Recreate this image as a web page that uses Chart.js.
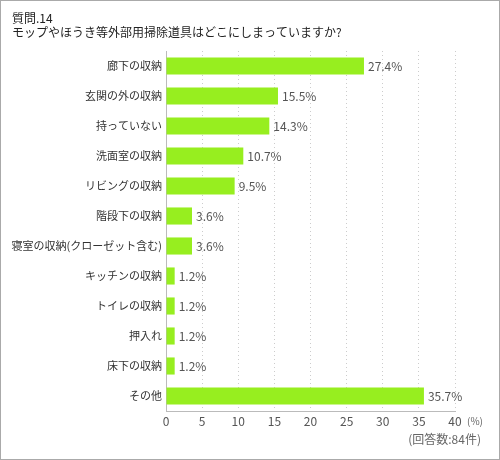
<!DOCTYPE html>
<html lang="ja">
<head>
<meta charset="UTF-8">
<script src="https://cdn.jsdelivr.net/npm/chart.js"></script>
<title>質問.14</title>
<style>
  body { margin: 0; background: #fff; }
  canvas { display: block; }
</style>
</head>
<body>
<canvas id="chart" width="500" height="460"></canvas>
<script>
// 質問.14 の回答 (%)
const categories = ['廊下の収納', '玄関の外の収納', '持っていない', '洗面室の収納', 'リビングの収納', '階段下の収納',
  '寝室の収納(クローゼット含む)', 'キッチンの収納', 'トイレの収納', '押入れ', '床下の収納', 'その他'];
const percents = [27.4, 15.5, 14.3, 10.7, 9.5, 3.6, 3.6, 1.2, 1.2, 1.2, 1.2, 35.7];
const titleLines = ['質問.14', 'モップやほうき等外部用掃除道具はどこにしまっていますか?'];
const unitLabel = '(%)';
const noteLabel = '(回答数:84件)';

const FONT = '"Noto Sans CJK JP", "Noto Sans", sans-serif';

// frame, title, notes and the value labels next to the bars
const extras = {
  id: 'extras',
  beforeDraw(chart) {
    const c = chart.ctx;
    c.save();
    c.fillStyle = '#fff';
    c.fillRect(0, 0, chart.width, chart.height);
    c.strokeStyle = '#aaa';
    c.lineWidth = 2;
    c.strokeRect(0, 0, chart.width, chart.height);
    c.restore();
  },
  afterDatasetsDraw(chart) {
    const c = chart.ctx;
    const meta = chart.getDatasetMeta(0);
    c.save();
    c.font = '12px ' + FONT;
    c.fillStyle = '#555';
    c.textBaseline = 'middle';
    meta.data.forEach((bar, i) => {
      c.fillText(percents[i].toFixed(1) + '%', bar.x + 4, bar.y);
    });
    c.restore();
  },
  afterDraw(chart) {
    const c = chart.ctx;
    const area = chart.chartArea;
    c.save();
    c.fillStyle = '#222';
    c.font = '12px ' + FONT;
    c.textBaseline = 'middle';
    c.fillText(titleLines[0], 12, 18);
    c.fillText(titleLines[1], 12, 32);
    c.fillStyle = '#666';
    c.font = '10px ' + FONT;
    c.fillText(unitLabel, 467, area.bottom + 10);
    c.font = '12px ' + FONT;
    c.textAlign = 'right';
    c.fillText(noteLabel, 481, area.bottom + 28);
    c.restore();
  }
};

new Chart(document.getElementById('chart'), {
  type: 'bar',
  data: {
    labels: categories,
    datasets: [{
      data: percents,
      backgroundColor: '#97ee1f',
      borderWidth: 0,
      barPercentage: 0.57,
      categoryPercentage: 1
    }]
  },
  options: {
    indexAxis: 'y',
    responsive: false,
    animation: false,
    layout: { padding: { left: 8, right: 45, top: 51, bottom: 0 } },
    plugins: { legend: { display: false }, tooltip: { enabled: false } },
    scales: {
      x: {
        min: 0,
        max: 40,
        ticks: { stepSize: 5, color: '#555', font: { family: FONT, size: 12 }, padding: 3 },
        grid: { color: '#ccc', drawTicks: false },
        border: { color: '#bbb', dash: [1, 3] },
        afterFit(s) { s.height = 49; }
      },
      y: {
        ticks: { color: '#333', font: { family: FONT, size: 11 }, padding: 4 },
        grid: { display: false, drawTicks: false },
        border: { color: '#bbb' },
        afterFit(s) { s.width = 158; }
      }
    }
  },
  plugins: [extras]
});
</script>
</body>
</html>
